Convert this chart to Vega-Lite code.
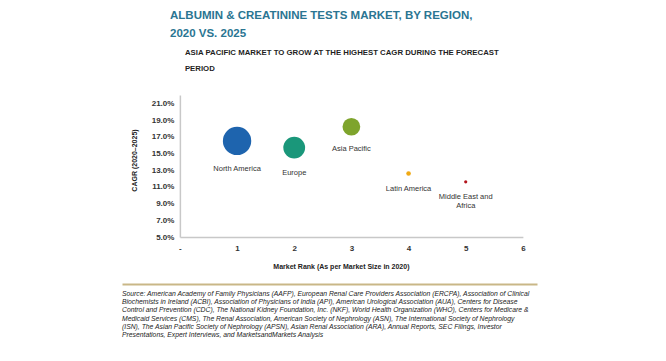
{
  "$schema": "https://vega.github.io/schema/vega-lite/v6.json",
  "background": "white",
  "padding": {"left": 122, "top": 9, "right": 0, "bottom": 0},
  "title": {
    "text": ["ALBUMIN & CREATININE TESTS MARKET, BY REGION,", "2020 VS. 2025"],
    "anchor": "start",
    "frame": "bounds",
    "dx": 48,
    "offset": 10,
    "font": "Liberation Sans",
    "fontSize": 11.5,
    "fontWeight": "bold",
    "color": "#2a7592",
    "lineHeight": 18
  },
  "center": true,
  "spacing": 15,
  "vconcat": [
    {
      "width": 343,
      "height": 142,
      "title": {
        "text": ["ASIA PACIFIC MARKET TO GROW AT THE HIGHEST CAGR DURING THE FORECAST", "PERIOD"],
        "anchor": "start",
        "frame": "group",
        "dx": 5,
        "offset": 22,
        "font": "Liberation Sans",
        "fontSize": 7.8,
        "fontWeight": "bold",
        "color": "#1f1f1f",
        "lineHeight": 16
      },
      "data": {
        "values": [
          {"region": "North America", "label": "North America", "rank": 1, "cagr": 16.5, "marketSize": 160},
          {"region": "Europe", "label": "Europe", "rank": 2, "cagr": 15.7, "marketSize": 94.5},
          {"region": "Asia Pacific", "label": "Asia Pacific", "rank": 3, "cagr": 18.2, "marketSize": 62.5},
          {"region": "Latin America", "label": "Latin America", "rank": 4, "cagr": 12.6, "marketSize": 4.2},
          {"region": "Middle East and Africa", "label": "Middle East and\nAfrica", "rank": 5, "cagr": 11.6, "marketSize": 2.0}
        ]
      },
      "encoding": {
        "x": {
          "field": "rank",
          "type": "quantitative",
          "scale": {"domain": [0, 6], "nice": false, "zero": false},
          "axis": {
            "values": [0, 1, 2, 3, 4, 5, 6],
            "labelExpr": "datum.value == 0 ? '-' : datum.label",
            "grid": false,
            "ticks": false,
            "labelFlush": false,
            "domainColor": "#c8c8c8",
            "domainWidth": 1.5,
            "labelFont": "Liberation Sans",
            "labelFontSize": 8,
            "labelFontWeight": "bold",
            "labelColor": "#333333",
            "labelPadding": 7,
            "title": "Market Rank (As per Market Size in 2020)",
            "titleFont": "Liberation Sans",
            "titleFontSize": 7,
            "titleFontWeight": "bold",
            "titleColor": "#222222",
            "titlePadding": 10,
            "titleX": 161
          }
        },
        "y": {
          "field": "cagr",
          "type": "quantitative",
          "scale": {"domain": [5, 22], "nice": false, "zero": false},
          "axis": {
            "values": [5, 7, 9, 11, 13, 15, 17, 19, 21],
            "labelExpr": "format(datum.value, '.1f') + '%'",
            "grid": false,
            "ticks": false,
            "labelFlush": false,
            "domainColor": "#c8c8c8",
            "domainWidth": 1.5,
            "labelFont": "Liberation Sans",
            "labelFontSize": 8,
            "labelFontWeight": "bold",
            "labelColor": "#333333",
            "labelPadding": 6,
            "title": "CAGR (2020–2025)",
            "titleFont": "Liberation Sans",
            "titleFontSize": 7,
            "titleFontWeight": "bold",
            "titleColor": "#222222",
            "titlePadding": 14,
            "titleY": 65
          }
        }
      },
      "layer": [
        {
          "mark": {"type": "circle", "opacity": 1},
          "encoding": {
            "size": {
              "field": "marketSize",
              "type": "quantitative",
              "scale": {"type": "linear", "domain": [0, 160], "range": [0, 804]},
              "legend": null
            },
            "color": {
              "field": "region",
              "type": "nominal",
              "scale": {
                "domain": ["North America", "Europe", "Asia Pacific", "Latin America", "Middle East and Africa"],
                "range": ["#1e64ae", "#1a977a", "#7ea42c", "#f0a914", "#b3141c"]
              },
              "legend": null
            }
          }
        },
        {
          "mark": {
            "type": "text",
            "baseline": "top",
            "align": "center",
            "theta": 3.14159,
            "font": "Liberation Sans",
            "fontSize": 7.5,
            "color": "#333333",
            "lineBreak": "\n",
            "lineHeight": 9.4
          },
          "encoding": {
            "text": {"field": "label"},
            "radius": {
              "field": "marketSize",
              "type": "quantitative",
              "scale": {"type": "sqrt", "zero": false, "domain": [0, 160], "range": [9, 24.5]}
            }
          }
        }
      ]
    },
    {
      "width": 461,
      "height": 2,
      "view": {"stroke": null},
      "title": {
        "text": [
          "Source: American Academy of Family Physicians (AAFP), European Renal Care Providers Association (ERCPA), Association of Clinical",
          "Biochemists in Ireland (ACBI), Association of Physicians of India (API), American Urological Association (AUA), Centers for Disease",
          "Control and Prevention (CDC), The National Kidney Foundation, Inc. (NKF), World Health Organization (WHO), Centers for Medicare &",
          "Medicaid Services (CMS), The Renal Association, American Society of Nephrology (ASN), The International Society of Nephrology",
          "(ISN), The Asian Pacific Society of Nephrology (APSN), Asian Renal Association (ARA), Annual Reports, SEC Filings, Investor",
          "Presentations, Expert Interviews, and MarketsandMarkets Analysis"
        ],
        "orient": "bottom",
        "anchor": "start",
        "frame": "group",
        "offset": 5,
        "font": "Liberation Sans",
        "fontSize": 6.8,
        "fontStyle": "italic",
        "fontWeight": "normal",
        "color": "#222222",
        "lineHeight": 8.2
      },
      "data": {"values": []},
      "mark": {"type": "rule"},
      "encoding": {
        "x": {
          "field": "v",
          "type": "quantitative",
          "scale": {"domain": [0, 1], "range": [0, 415], "nice": false, "zero": false},
          "axis": {
            "orient": "top",
            "domain": true,
            "domainColor": "#c9b787",
            "domainWidth": 2,
            "labels": false,
            "ticks": false,
            "grid": false,
            "title": null
          }
        }
      }
    }
  ],
  "config": {"view": {"stroke": null}}
}
